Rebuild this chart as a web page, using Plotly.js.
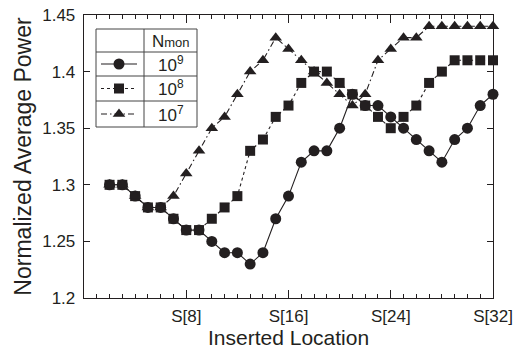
<!DOCTYPE html>
<html>
<head>
<meta charset="utf-8">
<script src="https://cdn.plot.ly/plotly-3.0.1.min.js"></script>
<style>html,body{margin:0;padding:0;background:#fff;}#chart{width:525px;height:350px;}</style>
</head>
<body>
<div id="chart"></div>
<script>
// ---- data ----
const locations = [2,3,4,5,6,7,8,9,10,11,12,13,14,15,16,17,18,19,20,21,22,23,24,25,26,27,28,29,30,31,32];
const power1e9 = [1.30,1.30,1.29,1.28,1.28,1.27,1.26,1.26,1.25,1.24,1.24,1.23,1.24,1.27,1.29,1.32,1.33,1.33,1.35,1.38,1.37,1.37,1.36,1.35,1.34,1.33,1.32,1.34,1.35,1.37,1.38];
const power1e8 = [1.30,1.30,1.29,1.28,1.28,1.27,1.26,1.26,1.27,1.28,1.29,1.33,1.34,1.36,1.37,1.39,1.40,1.40,1.39,1.38,1.37,1.36,1.35,1.36,1.37,1.39,1.40,1.41,1.41,1.41,1.41];
const power1e7 = [1.30,1.30,1.29,1.28,1.28,1.29,1.31,1.33,1.35,1.36,1.38,1.40,1.41,1.43,1.42,1.41,1.40,1.39,1.38,1.37,1.38,1.41,1.42,1.43,1.43,1.44,1.44,1.44,1.44,1.44,1.44];
const xTickVals = [8,16,24,32];
const xTickText = ['S[8]','S[16]','S[24]','S[32]'];
const seriesNames = ['10<sup>9</sup>','10<sup>8</sup>','10<sup>7</sup>'];
const legendHeader = 'N<span style="font-size:13px">mon</span>';
const xTitle = 'Inserted Location';
const yTitle = 'Normalized Average Power';

// ---- styles ----
const INK = '#231f20';
const FONT = 'Liberation Sans, Arial, Helvetica, sans-serif';
const styles = [
  {symbol:'circle', size:11, dash:'solid'},
  {symbol:'square', size:10, dash:'3px,3px'},
  {symbol:'triangle-up', size:11, dash:'6px,3px,1.5px,3px'}
];
const seriesData = [power1e9, power1e8, power1e7];

// plot area in pixels (for legend placement)
const M = {l:84, r:32, t:15, b:52};
const W = 525, H = 350;
const PW = W - M.l - M.r, PH = H - M.t - M.b;
const px = v => (v - M.l) / PW;          // pixel x -> paper x
const py = v => (M.t + PH - v) / PH;     // pixel y -> paper y

const traces = seriesData.map((ys, i) => ({
  type:'scatter', mode:'lines+markers', x:locations, y:ys,
  line:{color:INK, width:1.1, dash:styles[i].dash},
  marker:{symbol:styles[i].symbol, size:styles[i].size, color:INK, line:{width:0}},
  cliponaxis:false, showlegend:false, hoverinfo:'skip'
}));

// legend table
const Lx0 = 96, Lx1 = 144, Lx2 = 197;
const rowsY = [29, 52, 76, 101, 127];
const shapes = [];
const lineStyle = {color:'#444', width:1};
shapes.push({type:'rect', xref:'paper', yref:'paper', x0:px(Lx0), x1:px(Lx2), y0:py(rowsY[0]), y1:py(rowsY[4]), line:lineStyle, fillcolor:'rgba(0,0,0,0)', layer:'above'});
shapes.push({type:'line', xref:'paper', yref:'paper', x0:px(Lx1), x1:px(Lx1), y0:py(rowsY[0]), y1:py(rowsY[4]), line:lineStyle, layer:'above'});
for (let k = 1; k < 4; k++) {
  shapes.push({type:'line', xref:'paper', yref:'paper', x0:px(Lx0), x1:px(Lx2), y0:py(rowsY[k]), y1:py(rowsY[k]), line:lineStyle, layer:'above'});
}
const annotations = [];
annotations.push({xref:'paper', yref:'paper', x:px((Lx1+Lx2)/2), y:py((rowsY[0]+rowsY[1])/2 + 1), text:legendHeader, showarrow:false, font:{family:FONT, size:17, color:INK}, xanchor:'center', yanchor:'middle'});
const legendTraces = [];
for (let i = 0; i < 3; i++) {
  const cy = (rowsY[i+1] + rowsY[i+2]) / 2;
  annotations.push({xref:'paper', yref:'paper', x:px((Lx1+Lx2)/2), y:py(cy), text:seriesNames[i], showarrow:false, font:{family:FONT, size:17, color:INK}, xanchor:'center', yanchor:'middle'});
  legendTraces.push({
    type:'scatter', mode:'lines', x:[px(101), px(137)], y:[py(cy), py(cy)], xaxis:'x2', yaxis:'y2',
    line:{color:INK, width:1.1, dash:styles[i].dash}, showlegend:false, hoverinfo:'skip', cliponaxis:false
  });
  legendTraces.push({
    type:'scatter', mode:'markers', x:[px(119)], y:[py(cy)], xaxis:'x2', yaxis:'y2',
    marker:{symbol:styles[i].symbol, size:styles[i].size, color:INK, line:{width:0}}, showlegend:false, hoverinfo:'skip', cliponaxis:false
  });
}
// x axis title as annotation (below tick labels)
annotations.push({xref:'paper', yref:'paper', x:0.5, y:py(337.5), text:xTitle, showarrow:false, font:{family:FONT, size:21, color:INK}, xanchor:'center', yanchor:'middle', borderpad:0});

const axisCommon = {
  showline:true, linecolor:INK, linewidth:1.3, mirror:'allticks', ticks:'inside',
  tickcolor:INK, tickwidth:1, showgrid:false, zeroline:false,
  tickfont:{family:FONT, size:17, color:INK}
};

const layout = {
  width:W, height:H, margin:M,
  paper_bgcolor:'#fff', plot_bgcolor:'#fff',
  xaxis:Object.assign({}, axisCommon, {
    range:[0,32], tickmode:'array', tickvals:xTickVals, ticktext:xTickText, ticklen:8,
    ticklabelstandoff:2,
    minor:{dtick:1, tick0:0, ticks:'inside', ticklen:4, tickcolor:INK, tickwidth:1, showgrid:false}
  }),
  yaxis:Object.assign({}, axisCommon, {
    range:[1.2,1.45], dtick:0.05, tick0:1.2, ticklen:6,
    ticklabelstandoff:4,
    title:{text:yTitle, font:{family:FONT, size:23, color:INK}, standoff:4}
  }),
  xaxis2:{overlaying:'x', range:[0,1], visible:false, fixedrange:true},
  yaxis2:{overlaying:'y', range:[0,1], visible:false, fixedrange:true},
  shapes:shapes, annotations:annotations, showlegend:false
};

Plotly.newPlot('chart', traces.concat(legendTraces), layout, {staticPlot:true, displayModeBar:false});
</script>
</body>
</html>
